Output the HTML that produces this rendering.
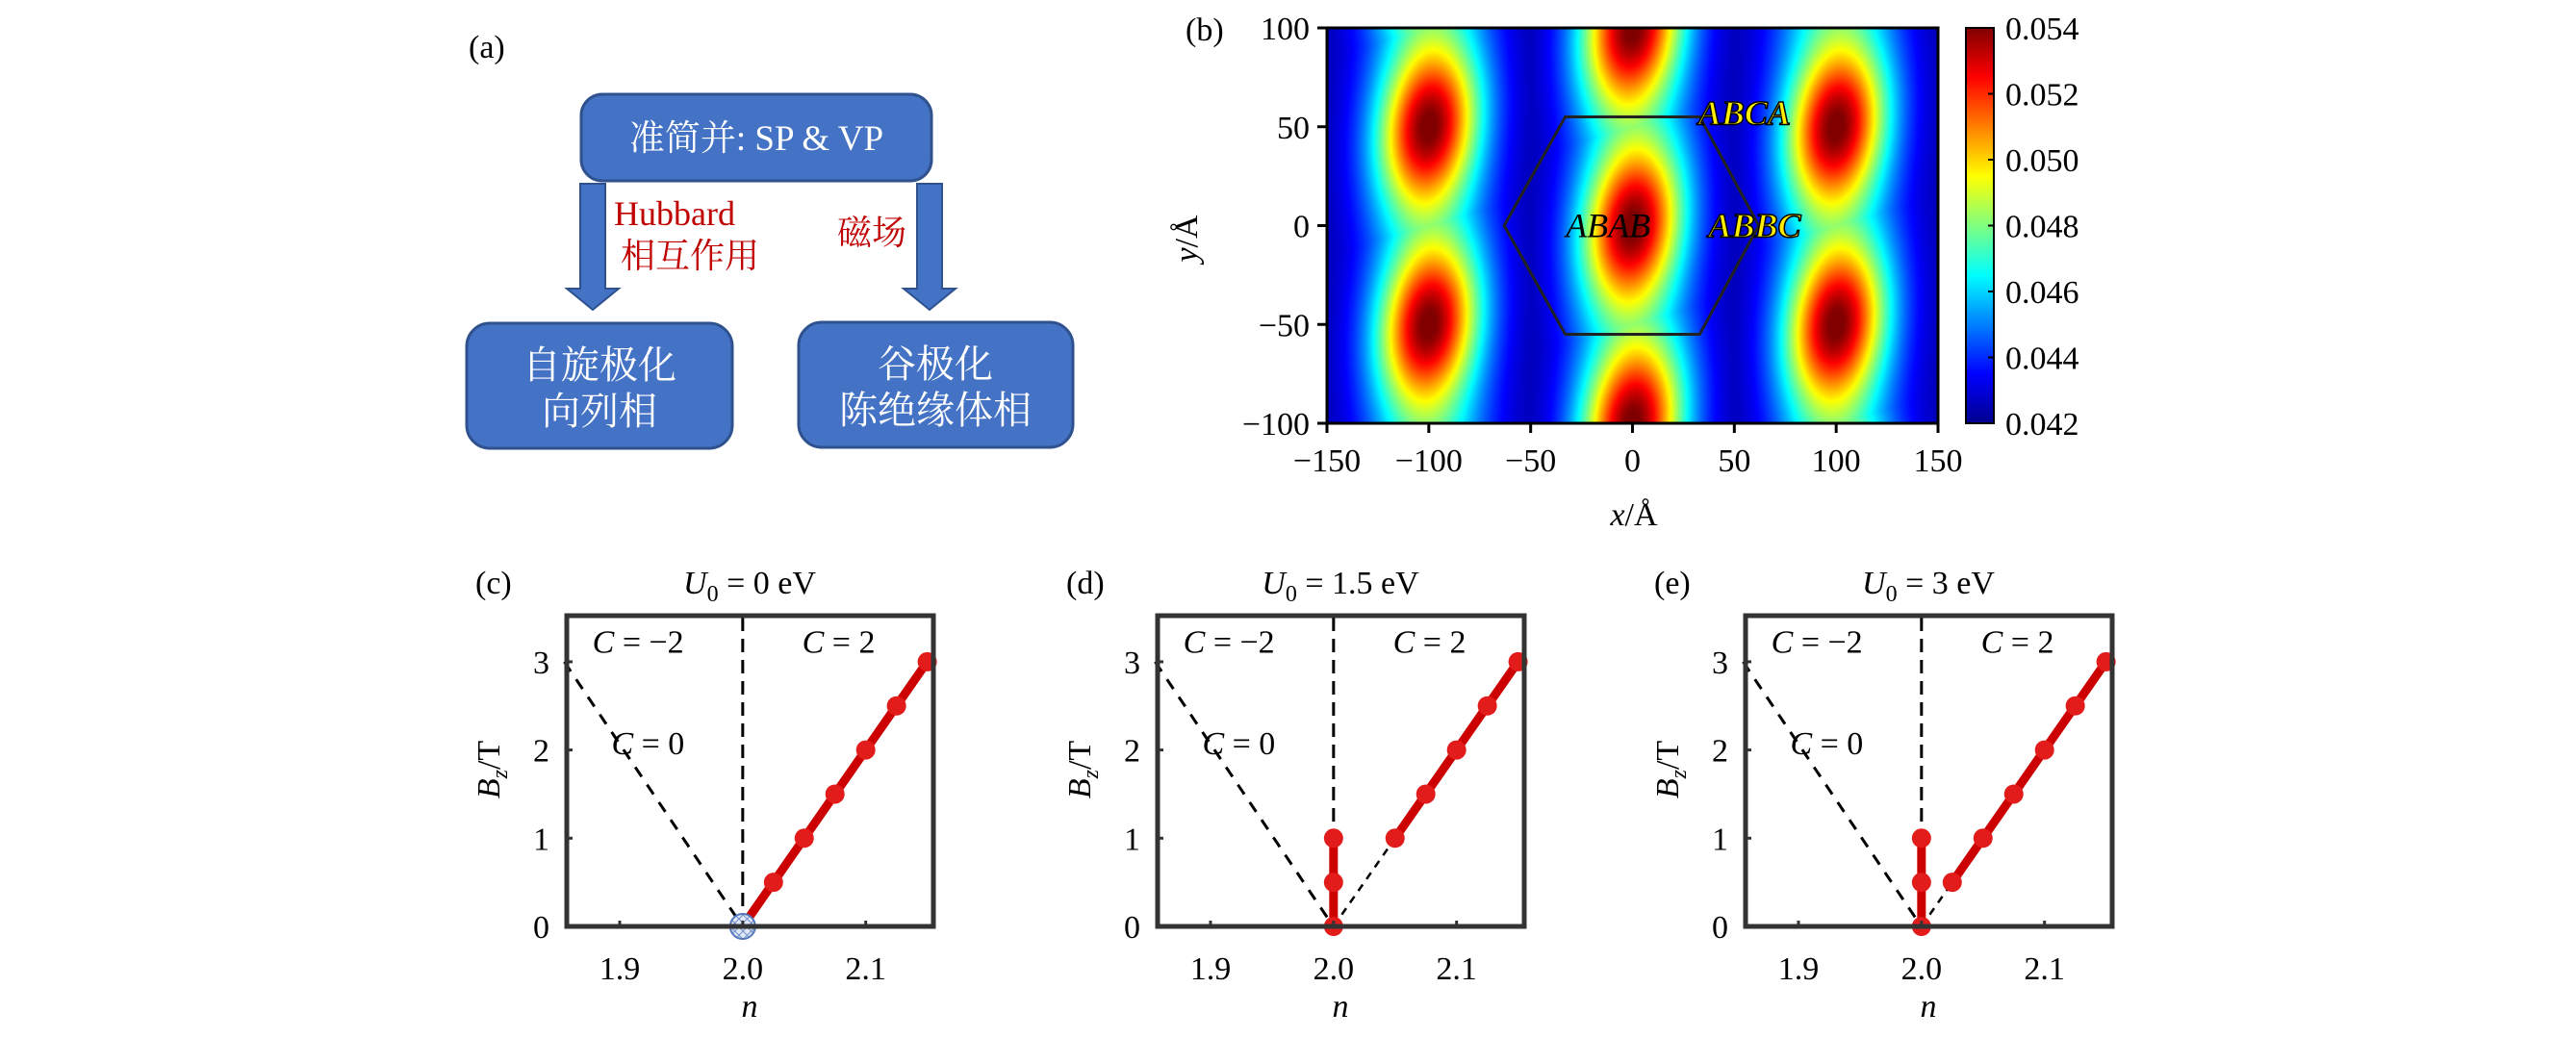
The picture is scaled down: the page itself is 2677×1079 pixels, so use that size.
<!DOCTYPE html>
<html><head><meta charset="utf-8"><style>
html,body{margin:0;padding:0;background:#fff;}
#wrap{position:relative;width:2677px;height:1079px;overflow:hidden;}
#heat{position:absolute;left:1379px;top:29px;width:635px;height:411px;image-rendering:auto;}
svg{position:absolute;left:0;top:0;}
text{font-family:"Liberation Serif","Noto Serif CJK SC",serif;}
.cjk{font-family:"Liberation Serif","Noto Serif CJK SC",serif;}
</style></head><body>
<div id="wrap">
<canvas id="heat" width="318" height="206"></canvas>
<svg id="svg" width="2677" height="1079" xmlns="http://www.w3.org/2000/svg">
<defs>
<linearGradient id="jet" x1="0" y1="1" x2="0" y2="0">
<stop offset="0" stop-color="#00008f"/><stop offset="0.125" stop-color="#0000ff"/>
<stop offset="0.375" stop-color="#00ffff"/><stop offset="0.625" stop-color="#ffff00"/>
<stop offset="0.875" stop-color="#ff0000"/><stop offset="1" stop-color="#800000"/>
</linearGradient>
<pattern id="hatch" width="6" height="6" patternUnits="userSpaceOnUse" patternTransform="rotate(45)">
<rect width="6" height="6" fill="#dfe6f5"/><line x1="0" y1="0" x2="0" y2="6" stroke="#5577bb" stroke-width="1.5"/><line x1="0" y1="0" x2="6" y2="0" stroke="#5577bb" stroke-width="1.5"/>
</pattern>
</defs>
<g>
<text x="487" y="60" font-size="34">(a)</text>
<rect x="604" y="98" width="364" height="90" rx="22" fill="#4472c4" stroke="#2f528f" stroke-width="3"/>
<text x="786" y="156" font-size="37" fill="#fff" text-anchor="middle" class="cjk">准简并: SP &amp; VP</text>
<polygon points="603,191 629,191 629,300 643,300 616,322 589,300 603,300" fill="#4472c4" stroke="#2f528f" stroke-width="2"/>
<polygon points="953,191 979,191 979,300 993,300 966,322 939,300 953,300" fill="#4472c4" stroke="#2f528f" stroke-width="2"/>
<text x="638" y="234" font-size="36" fill="#c00000">Hubbard</text>
<text x="645" y="278" font-size="36" fill="#c00000" class="cjk">相互作用</text>
<text x="870" y="254" font-size="36" fill="#c00000" class="cjk">磁场</text>
<rect x="485" y="336" width="276" height="130" rx="24" fill="#4472c4" stroke="#2f528f" stroke-width="3"/>
<text x="623" y="393" font-size="40" fill="#fff" text-anchor="middle" class="cjk">自旋极化</text>
<text x="623" y="441" font-size="40" fill="#fff" text-anchor="middle" class="cjk">向列相</text>
<rect x="830" y="335" width="285" height="130" rx="24" fill="#4472c4" stroke="#2f528f" stroke-width="3"/>
<text x="972" y="392" font-size="40" fill="#fff" text-anchor="middle" class="cjk">谷极化</text>
<text x="972" y="440" font-size="40" fill="#fff" text-anchor="middle" class="cjk">陈绝缘体相</text>
</g>
<g id="pb"></g>
<g id="pc"></g>
<g id="pd"></g>
<g id="pe"></g>
</svg>
</div>
<script>
const xTicksB = [-150,-100,-50,0,50,100,150];
const yTicksB = [-100,-50,0,50,100];
const cbTicks = [0.042,0.044,0.046,0.048,0.050,0.052,0.054];
const cbLabels = ["0.042","0.044","0.046","0.048","0.050","0.052","0.054"];
const blobX = [0,-100,100,-100,100,0,0,-100,100];
const blobY = [0,50,50,-50,-50,100,-100,150,-150];
const columnX = [-100,0,100];
const hexX = [-33,33,62,33,-33,-63];
const hexY = [55,55,0,-55,-55,0];
const vmin = 0.042, vmax = 0.054;

const NS="http://www.w3.org/2000/svg";
function el(tag, attrs, parent, txt){const e=document.createElementNS(NS,tag);for(const k in attrs)e.setAttribute(k,attrs[k]);if(txt!==undefined)e.textContent=txt;parent.appendChild(e);return e;}

const bx0=1379,bx1=2014,by0=29,by1=440;
const sxB=v=>bx0+(v+150)/300*(bx1-bx0);
const syB=v=>by1-(v+100)/200*(by1-by0);

(function(){
 const cv=document.getElementById('heat');const ctx=cv.getContext('2d');
 const W=cv.width,H=cv.height;const img=ctx.createImageData(W,H);
 function jet(t){t=Math.max(0,Math.min(1,t));const c=x=>Math.max(0,Math.min(1,1.5-Math.abs(x)));return [c(4*t-3),c(4*t-2),c(4*t-1)];}
 for(let j=0;j<H;j++){for(let i=0;i<W;i++){
  const x=-150+300*(i+0.5)/W, y=100-200*(j+0.5)/H;
  let v=0.0424;
  let dc=1e9;for(const cx of columnX)dc=Math.min(dc,Math.abs(x-cx));
  v+=0.0046*Math.exp(-dc*dc/(2*21*21));
  let bm=0;
  for(let k=0;k<blobX.length;k++){
   const dy=y-blobY[k];const dx=x-blobX[k]-0.12*dy;
   bm=Math.max(bm,Math.exp(-dx*dx/(2*17*17)-dy*dy/(2*27*27)));
  }
  v+=0.0072*bm;
  const [r,g,b]=jet((v-vmin)/(vmax-vmin));
  const p=(j*W+i)*4;img.data[p]=r*255;img.data[p+1]=g*255;img.data[p+2]=b*255;img.data[p+3]=255;
 }}
 ctx.putImageData(img,0,0);
})();

const pb=document.getElementById('pb');
let hp=hexX.map((x,i)=>sxB(x)+','+syB(hexY[i])).join(' ');
const hex=el('polygon',{points:hp,fill:'none',stroke:'#222','stroke-width':3},pb);


const fr=el('rect',{x:bx0,y:by0,width:bx1-bx0,height:by1-by0,fill:'none',stroke:'#000','stroke-width':3},pb);

xTicksB.forEach(v=>{const x=sxB(v);
 el('line',{x1:x,y1:by1,x2:x,y2:by1+10,stroke:'#000','stroke-width':3},pb);
 const t=el('text',{x:x,y:490,'font-size':34,'text-anchor':'middle'},pb,v<0?'\u2212'+(-v):String(v));
 });
yTicksB.forEach(v=>{const y=syB(v);
 el('line',{x1:bx0-10,y1:y,x2:bx0,y2:y,stroke:'#000','stroke-width':3},pb);
 const t=el('text',{x:bx0-18,y:y+12,'font-size':34,'text-anchor':'end'},pb,v<0?'\u2212'+(-v):String(v));
 });
let t;
t=el('text',{x:1232,y:42,'font-size':34},pb,'(b)');
t=el('text',{x:1698,y:546,'font-size':34,'text-anchor':'middle'},pb,'');t.innerHTML='<tspan font-style="italic">x</tspan>/Å';

t=el('text',{x:0,y:0,'font-size':34,'text-anchor':'middle',transform:'translate(1244,248) rotate(-90)'},pb,'');t.innerHTML='<tspan font-style="italic">y</tspan>/Å';

function outlined(txt,x,y,fill,name){
 const g=el('text',{x:x,y:y,'font-size':36,'font-style':'italic','font-weight':'bold','text-anchor':'middle',fill:fill,stroke:'#000','stroke-width':1.5},pb,txt);
 }
outlined('ABCA',sxB(55),syB(55)+8,'#ffee00','label-abca');
t=el('text',{x:sxB(-12),y:syB(0)+12,'font-size':36,'font-style':'italic','text-anchor':'middle',fill:'#000'},pb,'ABAB');

outlined('ABBC',sxB(60),syB(0)+12,'#ffee00','label-abbc');
const cx0=2043,cx1=2072;
t=el('rect',{x:cx0,y:by0,width:cx1-cx0,height:by1-by0,fill:'url(#jet)',stroke:'#000','stroke-width':2},pb);

cbTicks.forEach((v,i)=>{const y=by1-(v-vmin)/(vmax-vmin)*(by1-by0);
 el('line',{x1:cx1-6,y1:y,x2:cx1,y2:y,stroke:'#000','stroke-width':2},pb);
 const tt=el('text',{x:2084,y:y+12,'font-size':34},pb,cbLabels[i]);
 });

const xTicksN=[1.9,2.0,2.1];
const xTickLabels=["1.9","2.0","2.1"];
const yTicksBz=[0,1,2,3];
const cRedN=[2.0,2.025,2.05,2.075,2.1,2.125,2.15];
const cRedB=[0,0.5,1,1.5,2,2.5,3];
const cDotN=[2.025,2.05,2.075,2.1,2.125,2.15];
const cDotB=[0.5,1,1.5,2,2.5,3];
const dVertN=[2.0,2.0,2.0];const dVertB=[0,0.5,1];
const dRedN=[2.05,2.075,2.1,2.125,2.15];const dRedB=[1,1.5,2,2.5,3];
const eVertN=[2.0,2.0,2.0];const eVertB=[0,0.5,1];
const eRedN=[2.025,2.05,2.075,2.1,2.125,2.15];const eRedB=[0.5,1,1.5,2,2.5,3];
const titles=["0 eV","1.5 eV","3 eV"];

function panel(gid,x0,letter,title,draw){
 const g=document.getElementById(gid);
 const x1=x0+381,y0=640,y1=963;
 const sx=n=>x0+(n-1.857)/(2.155-1.857)*(x1-x0);
 const sy=b=>y1-b*91.7;
 let t=el('text',{x:x0-95,y:617,'font-size':34},g,'('+letter+')');
 
 t=el('text',{x:x0+190,y:617,'font-size':34,'text-anchor':'middle'},g,'');
 t.innerHTML='<tspan font-style="italic">U</tspan><tspan font-size="24" dy="8">0</tspan><tspan dy="-8"> = '+title+'</tspan>';
 
 const dl=el('line',{x1:sx(1.855),y1:sy(3),x2:sx(1.995),y2:sy(0.1),stroke:'#000','stroke-width':3,'stroke-dasharray':'12,10'},g);
 
 draw(g,sx,sy);
 const fr=el('rect',{x:x0,y:y0,width:x1-x0,height:y1-y0,fill:'none',stroke:'#333','stroke-width':5},g);
 
 xTicksN.forEach((v,i)=>{const x=sx(v);el('line',{x1:x,y1:y1,x2:x,y2:y1-6,stroke:'#333','stroke-width':3},g);
  const tt=el('text',{x:x,y:1018,'font-size':34,'text-anchor':'middle'},g,xTickLabels[i]);
  });
 yTicksBz.forEach(v=>{const y=sy(v);el('line',{x1:x0,y1:y,x2:x0+6,y2:y,stroke:'#333','stroke-width':3},g);
  const tt=el('text',{x:x0-18,y:y+12,'font-size':34,'text-anchor':'end'},g,String(v));
  });
 t=el('text',{x:x0+190,y:1057,'font-size':34,'font-style':'italic','text-anchor':'middle'},g,'n');
 
 t=el('text',{x:0,y:0,'font-size':34,'text-anchor':'middle',transform:'translate('+(x0-70)+',800) rotate(-90)'},g,'');
 t.innerHTML='<tspan font-style="italic">B</tspan><tspan font-style="italic" font-size="24" dy="8">z</tspan><tspan dy="-8">/T</tspan>';
 
 const lab=(s,n,b,nm)=>{const q=el('text',{x:sx(n),y:sy(b),'font-size':34,'text-anchor':'middle'},g,'');
  q.innerHTML='<tspan font-style="italic">C</tspan> = '+s;};
 lab('\u22122',1.915,3.1,'label-c-minus2');lab('2',2.078,3.1,'label-c-2');lab('0',1.923,1.95,'label-c-0');
}
function redLine(g,N,B,sx,sy,name){
 const p=el('polyline',{points:N.map((n,i)=>sx(n)+','+sy(B[i])).join(' '),fill:'none',stroke:'#cc0000','stroke-width':9},g);
 }
function dots(g,N,B,sx,sy,name){N.forEach((n,i)=>{const c=el('circle',{cx:sx(n),cy:sy(B[i]),r:10,fill:'#e21b1b'},g);
 });}
function vdash(g,sx,sy,b0){const l=el('line',{x1:sx(2.0),y1:sy(3.5),x2:sx(2.0),y2:sy(b0),stroke:'#000','stroke-width':3,'stroke-dasharray':'14,8'},g);
 }
function thinDash(g,n0,b0,n1,b1,sx,sy){const l=el('line',{x1:sx(n0),y1:sy(b0),x2:sx(n1),y2:sy(b1),stroke:'#000','stroke-width':2.5,'stroke-dasharray':'8,7'},g);
 }

panel('pc',589,'c',titles[0],(g,sx,sy)=>{
 vdash(g,sx,sy,0.15);
 redLine(g,cRedN,cRedB,sx,sy,'chern-line-c');dots(g,cDotN,cDotB,sx,sy,'chern-point-c');
 const c=el('circle',{cx:sx(2.0),cy:sy(0),r:13,fill:'url(#hatch)',stroke:'#5577bb','stroke-width':2},g);
 
});
panel('pd',1203,'d',titles[1],(g,sx,sy)=>{
 vdash(g,sx,sy,1);thinDash(g,dVertN[0],dVertB[0],dRedN[0],dRedB[0],sx,sy);
 redLine(g,dVertN,dVertB,sx,sy,'nematic-line-d');dots(g,dVertN,dVertB,sx,sy,'nematic-point-d');
 redLine(g,dRedN,dRedB,sx,sy,'chern-line-d');dots(g,dRedN,dRedB,sx,sy,'chern-point-d');
});
panel('pe',1814,'e',titles[2],(g,sx,sy)=>{
 vdash(g,sx,sy,1);thinDash(g,eVertN[0],eVertB[0],eRedN[0],eRedB[0],sx,sy);
 redLine(g,eVertN,eVertB,sx,sy,'nematic-line-e');dots(g,eVertN,eVertB,sx,sy,'nematic-point-e');
 redLine(g,eRedN,eRedB,sx,sy,'chern-line-e');dots(g,eRedN,eRedB,sx,sy,'chern-point-e');
});
</script>
</body></html>
